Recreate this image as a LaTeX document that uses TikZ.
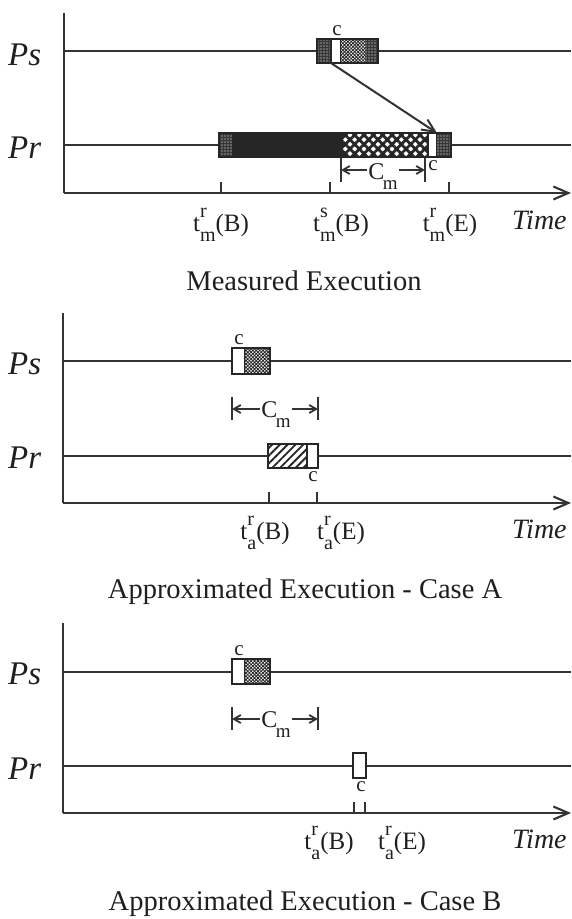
\documentclass[tikz,border=0pt]{standalone}
\usepackage{fontspec}
\setmainfont{Liberation Serif}
\usetikzlibrary{arrows.meta,patterns.meta}
\tikzset{
  ln/.style={line width=2.1pt, draw=black!80},
  tk/.style={line width=1.8pt, draw=black!80},
  boxo/.style={line width=2pt, draw=black!85},
  seg/.style={inner sep=0pt, outer sep=0pt},
  stip/.style={fill=black!78, postaction={pattern={Dots[radius=0.6pt,distance=3pt]}, pattern color=white}},
  wht/.style={fill=white, draw=black!85, line width=1.8pt},
  chk/.style={fill=white, postaction={pattern={Hatch[angle=45,distance=2.4pt,line width=0.85pt]}, pattern color=black!85}},
  blk/.style={fill=black!85},
  diam/.style={fill=white, postaction={pattern={Hatch[angle=45,distance=6.6pt,line width=2.8pt]}, pattern color=black!85}},
  hat/.style={fill=white, postaction={pattern={Lines[angle=45,distance=5.5pt,line width=1.9pt]}, pattern color=black!85}},
  tarrow/.style={-{Straight Barb[length=15pt,width=13pt]}},
  msg/.style={line width=2pt, draw=black!80, -{Straight Barb[length=13pt,width=12pt]}},
  dimar/.style={line width=1.8pt, draw=black!80, -{Straight Barb[length=7pt,width=8pt]}},
  pl/.style={font=\fontsize{33}{33}\selectfont\itshape, inner sep=0pt, text=black!88},
  tm/.style={font=\fontsize{28}{28}\selectfont\itshape, inner sep=0pt, text=black!88},
  captxt/.style={font=\fontsize{28.5}{28.5}\selectfont, inner sep=0pt, text=black!88},
  tl/.style={font=\fontsize{25}{25}\selectfont, inner sep=0pt, text=black!88},
  clab/.style={font=\fontsize{21}{21}\selectfont, inner sep=0pt, text=black!88},
  cmlab/.style={font=\fontsize{24}{24}\selectfont, inner sep=1pt, text=black!88}
}
\newcommand\tlbl[3]{t\rlap{\raisebox{0.56em}{\fontsize{20}{20}\selectfont #1}}\raisebox{-0.42em}{\fontsize{20}{20}\selectfont #2}(#3)}
\newcommand\cmtxt{C\kern-1.5pt\raisebox{-0.42em}{\fontsize{19}{19}\selectfont m}}
% name, style, x1, x2, y1, y2
\newcommand\mkseg[6]{\node[seg,#2,minimum width={(#4-#3)*1pt},minimum height={(#6-#5)*1pt}] (#1) at ({(#3+#4)/2},{(#5+#6)/2}) {};}
\begin{document}
\begin{tikzpicture}[x=1pt,y=-1pt]
\useasboundingbox (0,0) rectangle (572,919);
% ================= Panel 1 =================
\draw[ln] (64,13) -- (64,193);
\draw[ln,tarrow] (64,193) -- (571,193);
\draw[ln] (64,51) -- (571,51);
\draw[ln] (64,145) -- (571,145);
\mkseg{p1sa}{stip}{317}{331}{39}{63}
\mkseg{p1sc}{wht}{331}{341}{39}{63}
\mkseg{p1sk}{chk}{341}{365}{39}{63}
\mkseg{p1sb}{stip}{365}{378}{39}{63}
\draw[boxo] (p1sa.north west) rectangle (p1sb.south east);
\mkseg{p1ra}{stip}{219}{232}{133}{157}
\mkseg{p1rk}{blk}{232}{343}{133}{157}
\mkseg{p1rd}{diam}{343}{428}{133}{157}
\mkseg{p1rc}{wht}{428}{437}{133}{157}
\mkseg{p1rb}{stip}{437}{451}{133}{157}
\draw[boxo] (p1ra.north west) rectangle (p1rb.south east);
\draw[msg] (p1sc.south west) -- (p1rc.north east);
\node[clab] (p1c1) at (337,31) {c};
\node[clab] (p1c2) at (433,166) {c};
\draw[tk] (341,158) -- (341,182);
\draw[tk] (425,158) -- (425,182);
\coordinate (p1L) at (341,170);
\coordinate (p1R) at (425,170);
\node[cmlab,anchor=base] (p1cm) at (383,179) {\cmtxt};
\draw[dimar] (p1cm.west |- p1L) -- (p1L);
\draw[dimar] (p1cm.east |- p1R) -- (p1R);
\draw[ln] (221,182) -- (221,193);
\draw[ln] (330,182) -- (330,193);
\draw[ln] (449,182) -- (449,193);
\node[tl,anchor=base] (p1t1) at (221,231) {\tlbl{r}{m}{B}};
\node[tl,anchor=base] (p1t2) at (341,231) {\tlbl{s}{m}{B}};
\node[tl,anchor=base] (p1t3) at (450,231) {\tlbl{r}{m}{E}};
\node[tm,anchor=base west] (p1time) at (512,229) {Time};
\node[pl,anchor=base west] (p1ps) at (8,65) {Ps};
\node[pl,anchor=base west] (p1pr) at (8,158) {Pr};
\node[captxt,anchor=base] (p1cap) at (304,290) {Measured Execution};
% ================= Panel 2 =================
\draw[ln] (63,313) -- (63,503);
\draw[ln,tarrow] (63,503) -- (571,503);
\draw[ln] (63,361) -- (571,361);
\draw[ln] (63,456) -- (571,456);
\mkseg{p2sc}{wht}{232}{245}{348}{374}
\mkseg{p2sk}{chk}{245}{270}{348}{374}
\draw[boxo] (p2sc.north west) rectangle (p2sk.south east);
\node[clab] (p2c1) at (239,340) {c};
\draw[tk] (232,397) -- (232,420);
\draw[tk] (318,397) -- (318,420);
\coordinate (p2L) at (232,409);
\coordinate (p2R) at (318,409);
\node[cmlab,anchor=base] (p2cm) at (276,417) {\cmtxt};
\draw[dimar] (p2cm.west |- p2L) -- (p2L);
\draw[dimar] (p2cm.east |- p2R) -- (p2R);
\mkseg{p2rh}{hat}{268}{307}{444}{468}
\mkseg{p2rc}{wht}{307}{318}{444}{468}
\draw[boxo] (p2rh.north west) rectangle (p2rc.south east);
\node[clab] (p2c2) at (313,477) {c};
\draw[ln] (269,492) -- (269,503);
\draw[ln] (317,492) -- (317,503);
\node[tl,anchor=base] (p2t1) at (265,539) {\tlbl{r}{a}{B}};
\node[tl,anchor=base] (p2t2) at (341,539) {\tlbl{r}{a}{E}};
\node[tm,anchor=base west] (p2time) at (512,538) {Time};
\node[pl,anchor=base west] (p2ps) at (8,374) {Ps};
\node[pl,anchor=base west] (p2pr) at (8,468) {Pr};
\node[captxt,anchor=base] (p2cap) at (305,598) {Approximated Execution - Case A};
% ================= Panel 3 =================
\draw[ln] (63,623) -- (63,813);
\draw[ln,tarrow] (63,813) -- (571,813);
\draw[ln] (63,672) -- (571,672);
\draw[ln] (63,766) -- (571,766);
\mkseg{p3sc}{wht}{232}{245}{659}{684}
\mkseg{p3sk}{chk}{245}{270}{659}{684}
\draw[boxo] (p3sc.north west) rectangle (p3sk.south east);
\node[clab] (p3c1) at (239,651) {c};
\draw[tk] (232,707) -- (232,730);
\draw[tk] (318,707) -- (318,730);
\coordinate (p3L) at (232,719);
\coordinate (p3R) at (318,719);
\node[cmlab,anchor=base] (p3cm) at (276,727) {\cmtxt};
\draw[dimar] (p3cm.west |- p3L) -- (p3L);
\draw[dimar] (p3cm.east |- p3R) -- (p3R);
\mkseg{p3rc}{wht}{353}{366}{753}{778}
\node[clab] (p3c2) at (361,787) {c};
\draw[ln] (354,802) -- (354,813);
\draw[ln] (365,802) -- (365,813);
\node[tl,anchor=base] (p3t1) at (329,849) {\tlbl{r}{a}{B}};
\node[tl,anchor=base] (p3t2) at (402,849) {\tlbl{r}{a}{E}};
\node[tm,anchor=base west] (p3time) at (512,848) {Time};
\node[pl,anchor=base west] (p3ps) at (8,684) {Ps};
\node[pl,anchor=base west] (p3pr) at (8,779) {Pr};
\node[captxt,anchor=base] (p3cap) at (305,910) {Approximated Execution - Case B};
\end{tikzpicture}
\end{document}
